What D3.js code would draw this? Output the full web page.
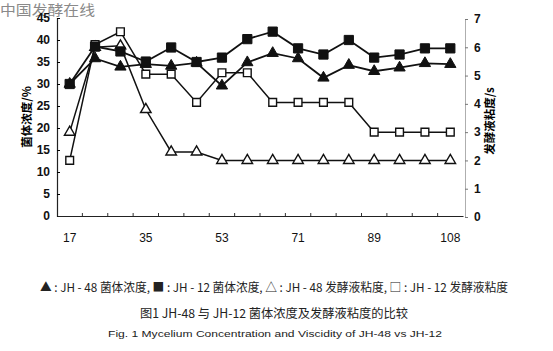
<!DOCTYPE html>
<html>
<head>
<meta charset="utf-8">
<script src="https://cdn.jsdelivr.net/npm/d3@7"></script>
<style>
  body { margin: 0; background: #fff; }
  svg { display: block; }
</style>
</head>
<body>
<div id="chart"></div>
<script>
// categories (fermentation time) and the values
const days = [17, 23, 29, 35, 41, 47, 53, 59, 65, 71, 77, 83, 89, 95, 101, 108];
const dayLabels = [17, 35, 53, 71, 89, 108];
const jh48Conc = [30, 35.8, 33.9, 34.5, 34.1, 34.8, 29.6, 34.9, 37.0, 35.8, 31.4, 34.3, 32.9, 33.7, 34.7, 34.5];
const jh12Conc = [30, 38.5, 37.4, 35.1, 38.3, 35.0, 36.0, 40.2, 41.9, 38.1, 36.7, 40.0, 36.0, 36.7, 38.1, 38.1];
const jh48Visc = [3.0, 6.0, 6.05, 3.8, 2.3, 2.3, 2.0, 2.0, 2.0, 2.0, 2.0, 2.0, 2.0, 2.0, 2.0, 2.0];
const jh12Visc = [2.0, 6.1, 6.55, 5.05, 5.05, 4.05, 5.1, 5.1, 4.05, 4.05, 4.05, 4.05, 3.0, 3.0, 3.0, 3.0];
const concTicks = [0, 5, 10, 15, 20, 25, 30, 35, 40, 45];
const viscTicks = [0, 1, 2, 3, 4, 5, 6, 7];

const W = 553, H = 351;
const numFont = '"Liberation Sans", Arial, sans-serif';
const cjkFont = '"Noto Sans CJK SC", "Noto Sans", sans-serif';

const svg = d3.select("#chart").append("svg")
    .attr("width", W)
    .attr("height", H);

// watermark
svg.append("text")
    .attr("x", 0).attr("y", 15)
    .attr("font-family", cjkFont)
    .attr("font-size", 14)
    .attr("fill", "#8a8a8a")
    .attr("textLength", 95)
    .attr("lengthAdjust", "spacingAndGlyphs")
    .text("中国发酵在线");

const x = d3.scaleBand().domain(days).range([57, 463]);
const yL = d3.scaleLinear().domain([0, 45]).range([216, 18]);
const yR = d3.scaleLinear().domain([0, 7]).range([217, 19]);

// left axis
const gL = svg.append("g").attr("transform", "translate(57,0)")
    .call(d3.axisLeft(yL).tickValues(concTicks).tickSize(-3).tickPadding(7));
gL.select(".domain").attr("stroke", "#222").attr("stroke-width", 1.2);
gL.selectAll("text")
    .attr("font-family", numFont).attr("font-size", 12).attr("font-weight", "bold").attr("fill", "#111");

// right axis
const gR = svg.append("g").attr("transform", "translate(465,0)")
    .call(d3.axisRight(yR).tickValues(viscTicks).tickFormat(d3.format("d")).tickSize(3).tickPadding(6));
gR.select(".domain").attr("stroke", "#999").attr("stroke-width", 0.8);
gR.selectAll(".tick line").attr("stroke", "#777");
gR.selectAll("text")
    .attr("font-family", numFont).attr("font-size", 12).attr("font-weight", "bold").attr("fill", "#111");

// bottom axis: labels at band centres, small ticks at band edges
const gB = svg.append("g").attr("transform", "translate(0,216)")
    .call(d3.axisBottom(x).tickValues(dayLabels).tickSize(0).tickPadding(17));
gB.select(".domain").attr("stroke", "#222").attr("stroke-width", 1.2);
gB.selectAll("text")
    .attr("font-family", numFont).attr("font-size", 12).attr("fill", "#111");
svg.append("g").selectAll("line")
    .data(days.slice(1))
    .join("line")
    .attr("x1", d => x(d)).attr("x2", d => x(d))
    .attr("y1", 216).attr("y2", 213)
    .attr("stroke", "#333").attr("stroke-width", 1);

// axis titles
svg.append("text")
    .attr("transform", "translate(31,117) rotate(-90)")
    .attr("text-anchor", "middle")
    .attr("font-family", cjkFont).attr("font-size", 11.5).attr("font-weight", "bold")
    .text("菌体浓度/%");
svg.append("text")
    .attr("transform", "translate(494,121) rotate(-90)")
    .attr("text-anchor", "middle")
    .attr("font-family", cjkFont).attr("font-size", 11.5).attr("font-weight", "bold")
    .text("发酵液粘度/s");

// series
const series = [
    { values: jh48Visc, y: yR, shape: d3.symbolTriangle, size: 48, filled: false },
    { values: jh12Visc, y: yR, shape: d3.symbolSquare, size: 60, filled: false },
    { values: jh48Conc, y: yL, shape: d3.symbolTriangle, size: 55, filled: true },
    { values: jh12Conc, y: yL, shape: d3.symbolSquare, size: 85, filled: true }
];

series.forEach(s => {
    const pts = days.map((d, i) => [x(d) + x.bandwidth() / 2, s.y(s.values[i])]);
    svg.append("path")
        .attr("d", d3.line()(pts))
        .attr("fill", "none")
        .attr("stroke", "#111")
        .attr("stroke-width", s.filled ? 1.8 : 1.5);
    svg.append("g").selectAll("path")
        .data(pts)
        .join("path")
        .attr("transform", p => `translate(${p[0]},${p[1]})`)
        .attr("d", d3.symbol(s.shape, s.size))
        .attr("fill", s.filled ? "#111" : "#fff")
        .attr("stroke", "#111")
        .attr("stroke-width", s.filled ? 1 : 1.4);
});

// captions
const caption = (txt, y, x0, x1, size, font) => {
    svg.append("text")
        .attr("x", x0).attr("y", y)
        .attr("font-family", font).attr("font-size", size)
        .attr("fill", "#222")
        .attr("textLength", x1 - x0)
        .attr("lengthAdjust", "spacingAndGlyphs")
        .text(txt);
};
caption("▲ : JH -  48 菌体浓度, ■ : JH -  12 菌体浓度, △ : JH -  48 发酵液粘度, □ : JH -  12 发酵液粘度", 292, 40, 508, 12, cjkFont);
caption("图1   JH-48 与 JH-12 菌体浓度及发酵液粘度的比较", 318, 140, 408, 12.5, cjkFont);
caption("Fig. 1   Mycelium  Concentration  and  Viscidity  of  JH-48  vs  JH-12", 337, 108, 442, 9, '"Liberation Sans", sans-serif');
</script>
</body>
</html>
